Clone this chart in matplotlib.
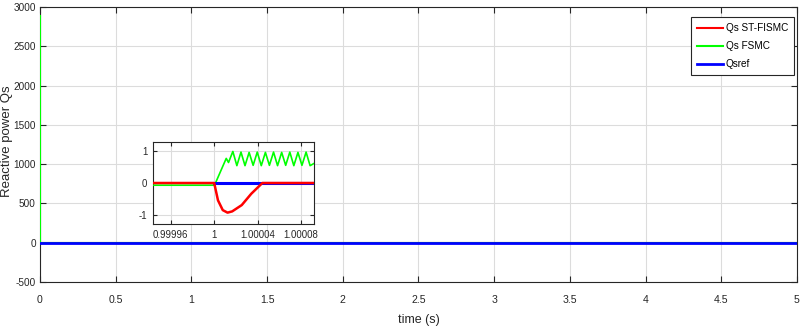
import matplotlib
matplotlib.use("Agg")
import matplotlib.pyplot as plt
import numpy as np

plt.rcParams['font.family'] = ['Liberation Sans', 'DejaVu Sans']
plt.rcParams['axes.unicode_minus'] = False

# ---------------- data ----------------
# main plot (time in s)
t_main = [0.0, 0.0, 5.0]
qs_fsmc_main = [2880.0, 0.0, 0.0]
qs_stfismc_main = [0.0, 0.0, 0.0]
t_ref_main = [0.0, 5.0]
qsref_main = [0.0, 0.0]

# inset (offset from t = 1 s, in microseconds)
fsmc_dt_us = [-57.0, 0.0, 1.2, 11.1, 13.2, 17.2, 20.9, 24.7, 28.4, 32.2, 35.9,
              39.7, 43.4, 47.2, 50.9, 54.7, 58.4, 62.2, 65.9, 69.7, 73.4,
              77.2, 80.9, 84.7, 88.4, 92.0]
fsmc_val = [-0.07, -0.07, 0.0, 0.78, 0.65, 1.0, 0.55, 0.98, 0.55, 0.97, 0.56,
            0.98, 0.55, 0.97, 0.56, 0.98, 0.55, 0.97, 0.56, 0.98, 0.55,
            0.97, 0.56, 0.98, 0.55, 0.62]
st_dt_us = [-57.0, 0.0, 3.5, 7.9, 12.3, 16.6, 25.4, 34.2, 44.4, 92.0]
st_val = [0.0, 0.0, -0.55, -0.86, -0.94, -0.90, -0.70, -0.34, 0.0, 0.0]
ref_dt_us = [0.0, 92.0]
ref_val = [0.0, 0.0]

inset_xticks = [0.99996, 1.0, 1.00004, 1.00008]
inset_xticklabels = ['0.99996', '1', '1.00004', '1.00008']

RED = '#ff0000'
GREEN = '#00ff00'
BLUE = '#0000ff'
DARK = '#262626'

fig = plt.figure(figsize=(8.03, 3.32), dpi=100)
ax = fig.add_axes([40/803, 1-282/332, (797-40)/803, (282-7)/332])

ax.plot(t_main, qs_stfismc_main, color=RED, lw=1.5, label='Qs ST-FISMC', zorder=3)
ax.plot(t_main, qs_fsmc_main, color=GREEN, lw=1.5, label='Qs FSMC', zorder=4)
ax.plot(t_ref_main, qsref_main, color=BLUE, lw=2.0, label='Qsref', zorder=5)

ax.set_xlim(0, 5)
ax.set_ylim(-500, 3000)
ax.set_xticks(np.arange(0, 5.01, 0.5))
ax.set_xticklabels(['0', '0.5', '1', '1.5', '2', '2.5', '3', '3.5', '4', '4.5', '5'])
ax.set_yticks(np.arange(-500, 3001, 500))
ax.grid(True, color='#dcdcdc', lw=0.8)
ax.set_axisbelow(True)
ax.tick_params(direction='in', top=True, right=True, labelsize=7.6, length=4,
               width=0.8, colors=DARK)
ax.tick_params(axis='x', pad=9.5)
ax.tick_params(axis='y', labelsize=7.2, pad=3)
for s in ax.spines.values():
    s.set_color(DARK)
    s.set_linewidth(0.8)
ax.set_xlabel('time (s)', fontsize=9, color=DARK)
ax.xaxis.set_label_coords(0.5, -0.115)
ax.set_ylabel('Reactive power Qs', fontsize=9.5, color=DARK)
ax.yaxis.set_label_coords(-0.0352, 0.513)

leg = ax.legend(loc='upper right', bbox_to_anchor=(794/803, 1-17/332),
                bbox_transform=fig.transFigure, fontsize=7.2, frameon=True,
                fancybox=False, edgecolor=DARK, framealpha=1,
                handlelength=2.6, borderpad=0.6, labelspacing=0.8,
                handletextpad=0.3, borderaxespad=0)
leg.get_frame().set_linewidth(0.8)

# inset
axi = fig.add_axes([153/803, 1-224/332, (314-153)/803, (224-142)/332])
axi.plot([1 + d*1e-6 for d in fsmc_dt_us], fsmc_val, color=GREEN, lw=1.2, zorder=3)
axi.plot([1 + d*1e-6 for d in ref_dt_us], ref_val, color=BLUE, lw=2.2, zorder=4)
axi.plot([1 + d*1e-6 for d in st_dt_us], st_val, color=RED, lw=1.8, zorder=5)
axi.set_xlim(1 - 5.64e-5, 1 + 9.2e-5)
axi.set_ylim(-1.3, 1.3)
axi.set_xticks(inset_xticks)
axi.set_xticklabels(inset_xticklabels)
axi.set_yticks([-1, 0, 1])
axi.grid(True, color='#dcdcdc', lw=0.8)
axi.set_axisbelow(True)
axi.tick_params(direction='in', top=True, right=True, labelsize=6.9, length=3,
                width=0.8, colors=DARK, pad=4)
for s in axi.spines.values():
    s.set_color(DARK)
    s.set_linewidth(0.8)

fig.savefig('out.png', dpi=100)
